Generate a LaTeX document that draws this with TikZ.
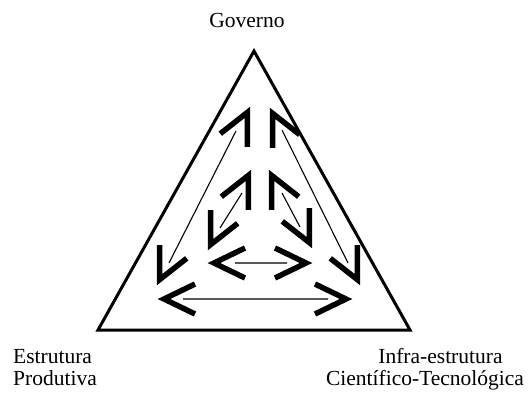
\documentclass[tikz,border=0pt]{standalone}
\usepackage{fontspec}
\setmainfont{Liberation Serif}
\tikzset{
  barb/.pic={\draw[line width=5.5pt,line join=miter] (-37pt,15pt) -- (-6pt,0pt) -- (-37pt,-15pt);},
  link/.style={line width=1.1pt},
  vlabel/.style={inner sep=0pt,font={\fontsize{21.5pt}{21.5pt}\selectfont}}
}

\begin{document}
\begin{tikzpicture}[x=1pt,y=-1pt]
  \useasboundingbox (0,0) rectangle (531,392);
  % triangle
  \coordinate (G) at (254,51);
  \coordinate (E) at (98,330);
  \coordinate (I) at (410,330);
  \draw[line width=3pt,line join=miter] (G) -- (E) -- (I) -- cycle;
  \node[vlabel,anchor=base] (gov) at (247,27) {Governo};
  \node[vlabel,anchor=base west,align=left] (est) at (13,385) {Estrutura\\Produtiva};
  \node[vlabel,anchor=base,align=center] (inf) at (425,385) {\hspace*{31pt}Infra-estrutura\\Científico-Tecnológica};
  % outer arrows
  \coordinate (oL1) at (169,263);
  \coordinate (oL2) at (236,131);
  \coordinate (oR1) at (282,130);
  \coordinate (oR2) at (348,263);
  \coordinate (oB1) at (183,299);
  \coordinate (oB2) at (328,299);
  \draw[link] (oL1) -- (oL2) (oR1) -- (oR2) (oB1) -- (oB2);
  \pic[rotate=64] at (250,107) {barb};
  \pic[rotate=244] at (157,285) {barb};
  \pic[rotate=116] at (270,108) {barb};
  \pic[rotate=-64] at (360,285) {barb};
  \pic[rotate=180] at (158,299) {barb};
  \pic at (352,299) {barb};
  % inner arrows
  \coordinate (iL1) at (220,228);
  \coordinate (iL2) at (242,193);
  \coordinate (iR1) at (282,193);
  \coordinate (iR2) at (300,227);
  \coordinate (iB1) at (235,263);
  \coordinate (iB2) at (287,263);
  \draw[link] (iL1) -- (iL2) (iR1) -- (iR2) (iB1) -- (iB2);
  \pic[rotate=64] at (251,170) {barb};
  \pic[rotate=244] at (208,250) {barb};
  \pic[rotate=116] at (269,170) {barb};
  \pic[rotate=-64] at (312,248) {barb};
  \pic[rotate=180] at (208,263) {barb};
  \pic at (312,263) {barb};
\end{tikzpicture}
\end{document}
